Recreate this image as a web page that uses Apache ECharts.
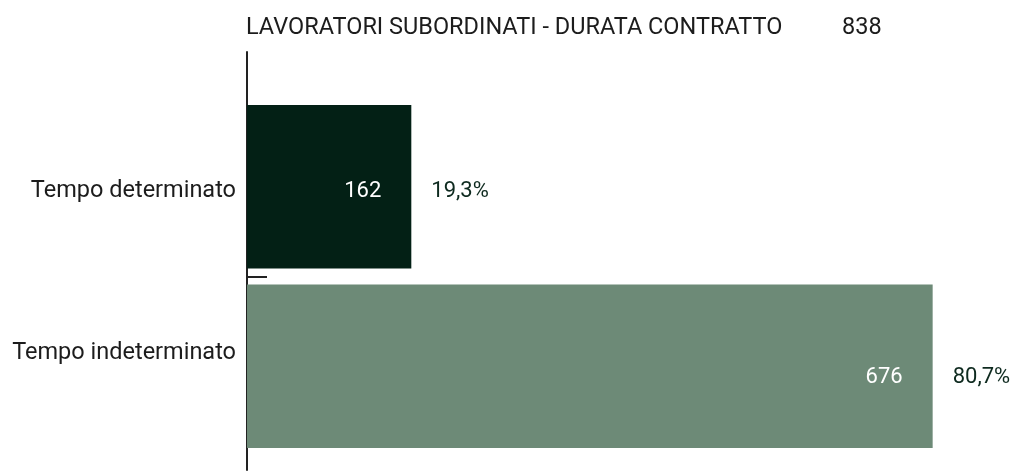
<!DOCTYPE html>
<html>
<head>
<meta charset="utf-8">
<script src="https://cdn.jsdelivr.net/npm/echarts@6/dist/echarts.min.js"></script>
<style>
  html, body { margin: 0; padding: 0; background: #fff; }
  #main { width: 1017px; height: 473px; }
</style>
</head>
<body>
<div id="main"></div>
<script>
var categories = ['Tempo determinato', 'Tempo indeterminato'];
var values = [162, 676];
var shares = ['19,3%', '80,7%'];
var total = 838;
var titleText = 'LAVORATORI SUBORDINATI - DURATA CONTRATTO';

var barColors = ['#032015', '#6d8a77'];
// small vertical nudges seen in the reference
var labelDy = [5, 11];

var chartDom = document.getElementById('main');
var myChart = echarts.init(chartDom);
var font = 'Roboto, "Noto Sans", sans-serif';

var option = {
  animation: false,
  title: [
    { text: titleText, left: 246, top: 16, padding: 0,
      textStyle: { fontFamily: font, fontSize: 23.5, fontWeight: 'normal', color: '#1c1c1c' } },
    { text: String(total), left: 842, top: 16, padding: 0,
      textStyle: { fontFamily: font, fontSize: 23.5, fontWeight: 'normal', color: '#1c1c1c' } }
  ],
  grid: [
    { left: 247, top: 97, height: 359, width: 710 },
    { left: 247, top: 52, height: 418, width: 710 }
  ],
  xAxis: [
    { gridIndex: 0, type: 'value', min: 0, max: 700, show: false },
    { gridIndex: 1, type: 'value', min: 0, max: 1, show: false }
  ],
  yAxis: [
    {
      gridIndex: 0,
      type: 'category',
      inverse: true,
      data: categories,
      axisLine: { show: false },
      axisTick: { show: false },
      axisLabel: {
        margin: 11,
        formatter: function (v, i) { return '{c' + i + '|' + v + '}'; },
        rich: {
          c0: { fontFamily: font, fontSize: 23.5, color: '#1c1c1c', padding: [8, 0, 0, 0] },
          c1: { fontFamily: font, fontSize: 23.5, color: '#1c1c1c', padding: [0, 0, 26, 0] }
        }
      }
    },
    {
      // long axis line with the single tick between the two bars
      gridIndex: 1,
      type: 'value',
      inverse: true,
      min: -0.7507,
      max: 1.578,
      axisLine: { show: true, lineStyle: { color: '#222', width: 2 } },
      axisTick: { show: true, inside: true, length: 20, customValues: [0.5],
                  lineStyle: { color: '#222', width: 2 } },
      axisLabel: { show: false },
      splitLine: { show: false }
    }
  ],
  series: [
    {
      type: 'bar',
      barCategoryGap: '9%',
      data: values.map(function (v, i) {
        return { value: v, itemStyle: { color: barColors[i] },
                 label: { offset: [0, labelDy[i]] } };
      }),
      label: {
        show: true,
        position: 'insideRight',
        distance: 30,
        fontFamily: font,
        fontSize: 22,
        color: '#ffffff'
      }
    },
    {
      type: 'bar',
      barGap: '-100%',
      barCategoryGap: '9%',
      silent: true,
      itemStyle: { color: 'transparent' },
      data: values.map(function (v, i) {
        return { value: v, label: { offset: [0, labelDy[i]] } };
      }),
      label: {
        show: true,
        position: 'right',
        distance: 20,
        fontFamily: font,
        fontSize: 22,
        color: '#0e2a1f',
        formatter: function (p) { return shares[p.dataIndex]; }
      }
    }
  ]
};

myChart.setOption(option);
</script>
</body>
</html>
